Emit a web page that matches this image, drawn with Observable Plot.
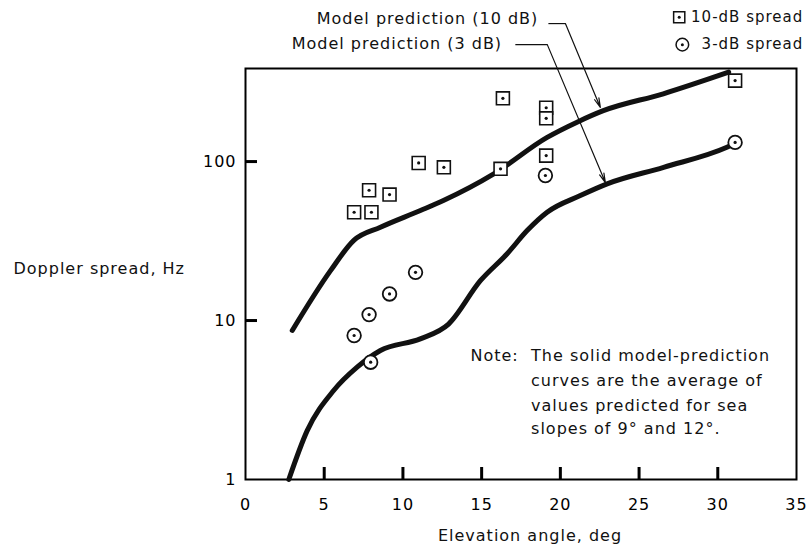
<!DOCTYPE html>
<html>
<head>
<meta charset="utf-8">
<script src="https://cdn.jsdelivr.net/npm/d3@7"></script>
<script src="https://cdn.jsdelivr.net/npm/@observablehq/plot@0.6"></script>
<style>
  html, body { margin: 0; padding: 0; background: #ffffff; }
  #chart { width: 809px; height: 550px; }
</style>
</head>
<body>
<div id="chart"></div>
<script>
// ---- Data ----
const xTickLabels = [0, 5, 10, 15, 20, 25, 30, 35];
const xInnerTicks = [5, 10, 15, 20, 25, 30];
const yTickLabels = [1, 10, 100];
const yInnerTicks = [10, 100];

// Measured 10-dB spread (square symbols)
const spread10x = [6.9, 8.0, 7.85, 9.15, 11.0, 12.6, 16.35, 16.2, 19.1, 19.1, 19.1, 31.1];
const spread10y = [48, 48, 66, 62, 98, 92, 250, 90, 218, 187, 109, 323];

// Measured 3-dB spread (circle symbols)
const spread3x = [6.9, 7.85, 9.15, 10.8, 7.95, 19.05, 31.1];
const spread3y = [8.05, 10.9, 14.7, 20.1, 5.47, 81.7, 132];

// Model prediction curves
const model10x = [2.97, 5.4, 6.88, 8.57, 11.11, 12.57, 15.77, 19.16, 21.06, 22.73, 26.54, 30.69];
const model10y = [8.66, 20.6, 31.9, 38.6, 49.2, 56.9, 83.7, 142, 177, 209, 267, 365];
const model3x = [2.75, 3.92, 5.6, 7.09, 8.57, 11.1, 12.9, 14.92, 16.62, 17.89, 19.16, 21.27, 22.97, 26.56, 30.58, 31.1];
const model3y = [1.0, 2.03, 3.63, 5.09, 6.48, 7.67, 9.5, 17.8, 26.3, 36.8, 48, 61.1, 72.4, 92, 123, 130];

// Annotation labels and leader lines (data coordinates)
const annoLabels = ["Model prediction (10 dB)", "Model prediction (3 dB)"];
const annoLabelX = [18.6, 16.3];
const annoLabelY = [793, 552];
const leaderX1 = [19.24, 17.14];
const leaderX2 = [20.32, 19.17];
const leaderY = [738, 544];
const arrowTipX = [22.54, 22.86];
const arrowTipY = [219, 73.8];

// Legend
const legendLabels = ["10-dB spread", "3-dB spread"];
const legendSymbols = ["square", "circle"];
const legendSymX = [27.55, 27.75];
const legendY = [809, 544];
const legendTextX = 35.43;

// Note
const noteLead = "Note:";
const noteLines = ["The solid model-prediction", "curves are the average of", "values predicted for sea", "slopes of 9° and 12°."];
const noteLeadX = 14.29;
const noteX = 18.14;
const noteY = [6.03, 4.2, 2.92, 2.09];

const xLabel = "Elevation angle, deg";
const yLabel = "Doppler spread, Hz";

const xDomain = [0, 35];
const yDomain = [1, 385];

// ---- Build tables ----
const sq10 = spread10x.map((x, i) => ({x, y: spread10y[i]}));
const c3 = spread3x.map((x, i) => ({x, y: spread3y[i]}));
const m10 = model10x.map((x, i) => ({x, y: model10y[i]}));
const m3 = model3x.map((x, i) => ({x, y: model3y[i]}));
const annos = annoLabels.map((t, i) => ({
  t, lx: annoLabelX[i], ly: annoLabelY[i],
  x1: leaderX1[i], x2: leaderX2[i], y: leaderY[i],
  tx: arrowTipX[i], ty: arrowTipY[i]
}));
const legendSq = [{x: legendSymX[0], y: legendY[0]}];
const legendCi = [{x: legendSymX[1], y: legendY[1]}];
const legendTx = legendLabels.map((t, i) => ({t, y: legendY[i]}));
const note = noteLines.map((t, i) => ({t, y: noteY[i]}));

const ink = "#111";
const FS = 16;
const W = 809, H = 550, ML = 245, MR = 13, MT = 68, MB = 71;
const TICK = 12;
const plotW = W - ML - MR, plotH = H - MT - MB;

const chart = Plot.plot({
  width: W,
  height: H,
  marginLeft: ML,
  marginRight: MR,
  marginTop: MT,
  marginBottom: MB,
  style: {fontFamily: "'DejaVu Sans', sans-serif", fontSize: "16px", background: "#fff", letterSpacing: "1px"},
  x: {domain: xDomain},
  y: {type: "log", domain: yDomain},
  marks: [
    Plot.frame({stroke: "black", strokeWidth: 2}),
    // inward ticks
    Plot.ruleX(xInnerTicks, {x: d => d, insetTop: plotH - TICK, stroke: "black", strokeWidth: 3}),
    Plot.ruleY(yInnerTicks, {y: d => d, insetRight: plotW - TICK, stroke: "black", strokeWidth: 3}),
    // tick labels
    Plot.axisX({ticks: xTickLabels, tickSize: 0, tickPadding: 19, fontSize: FS, label: null, tickFormat: d => String(d)}),
    Plot.axisY({ticks: yTickLabels, tickSize: 0, tickPadding: 9, fontSize: FS, label: null, tickFormat: d => String(d)}),
    // axis titles
    Plot.text([xLabel], {frameAnchor: "bottom", textAnchor: "middle", dx: 9, dy: 61, fontSize: FS, fill: ink}),
    Plot.text([yLabel], {frameAnchor: "left", textAnchor: "start", dx: -232, dy: -5, fontSize: FS, fill: ink}),
    // model curves
    Plot.line(m10, {x: "x", y: "y", stroke: ink, strokeWidth: 5, curve: "monotone-x", strokeLinecap: "round"}),
    Plot.line(m3, {x: "x", y: "y", stroke: ink, strokeWidth: 5, curve: "monotone-x", strokeLinecap: "round"}),
    // measured points
    Plot.dot(sq10, {x: "x", y: "y", symbol: "square", r: 7.3, stroke: ink, strokeWidth: 1.6, fill: "#fff"}),
    Plot.dot(sq10, {x: "x", y: "y", r: 1.6, fill: ink}),
    Plot.dot(c3, {x: "x", y: "y", symbol: "circle", r: 6.8, stroke: ink, strokeWidth: 1.8, fill: "#fff"}),
    Plot.dot(c3, {x: "x", y: "y", r: 1.6, fill: ink}),
    // annotations
    Plot.text(annos, {x: "lx", y: "ly", text: "t", textAnchor: "end", fontSize: FS, fill: ink}),
    Plot.link(annos, {x1: "x1", x2: "x2", y1: "y", y2: "y", stroke: ink, strokeWidth: 1.2}),
    Plot.arrow(annos, {x1: "x2", y1: "y", x2: "tx", y2: "ty", stroke: ink, strokeWidth: 1.2, headLength: 12, headAngle: 28}),
    // legend
    Plot.dot(legendSq, {x: "x", y: "y", symbol: "square", r: 6.3, stroke: ink, strokeWidth: 1.5, fill: "#fff"}),
    Plot.dot(legendCi, {x: "x", y: "y", symbol: "circle", r: 6.3, stroke: ink, strokeWidth: 1.5, fill: "#fff"}),
    Plot.dot([...legendSq, ...legendCi], {x: "x", y: "y", r: 1.5, fill: ink}),
    Plot.text(legendTx, {x: () => legendTextX, y: "y", text: "t", textAnchor: "end", fontSize: 15, fill: ink}),
    // note
    Plot.text([noteLead], {x: () => noteLeadX, y: () => noteY[0], textAnchor: "start", fontSize: FS, fill: ink}),
    Plot.text(note, {x: () => noteX, y: "y", text: "t", textAnchor: "start", fontSize: FS, fill: ink})
  ]
});
document.getElementById("chart").appendChild(chart);
</script>
</body>
</html>
